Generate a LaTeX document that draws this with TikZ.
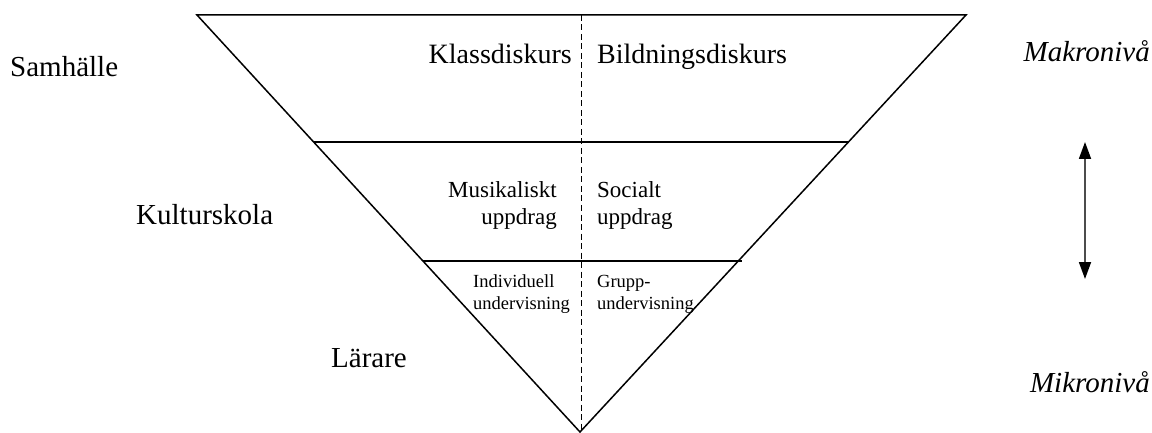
\documentclass[tikz,border=0pt]{standalone}
\usepackage{fontspec}
\setmainfont{Liberation Serif}
\usetikzlibrary{arrows.meta}
\begin{document}
\begin{tikzpicture}[x=1pt,y=-1pt,
  edge/.style={line width=1.5pt,line join=miter},
  thin/.style={line width=1.1pt},
  big/.style={inner sep=0pt,font=\fontsize{29}{34}\selectfont},
  top/.style={inner sep=0pt,font=\fontsize{28}{34}\selectfont},
  mid/.style={inner sep=0pt,font=\fontsize{23}{28}\selectfont},
  small/.style={inner sep=0pt,font=\fontsize{18.5}{22}\selectfont},
  lvl/.style={inner sep=0pt,font=\fontsize{29}{34}\selectfont\itshape}]
\useasboundingbox (0,0) rectangle (1152,433);
\coordinate (TL) at (197,15);
\coordinate (TR) at (966,15);
\coordinate (B) at (580,432);
\coordinate (L1) at (313.6,142);
\coordinate (R1) at (848,142);
\coordinate (L2) at (423,261);
\coordinate (R2) at (742,261);
\coordinate (DT) at (581,15);
\coordinate (DB) at (581,432);
\draw[edge] (TL) -- (TR) -- (B) -- cycle;
\draw[thin] (L1) -- (R1);
\draw[thin] (L2) -- (R2);
\draw[line width=1pt,dash pattern=on 6pt off 3.5pt] (DT) -- (DB);
% left labels
\node[big,anchor=base west] (samh) at (10,77) {Samhälle};
\node[big,anchor=base west] (kult) at (136,224) {Kulturskola};
\node[big,anchor=base west] (lar) at (331,367) {Lärare};
% top row
\node[top,anchor=base east] (klass) at (572,64) {Klassdiskurs};
\node[top,anchor=base west] (bild) at (597,64) {Bildningsdiskurs};
% middle row
\node[mid,anchor=base east,align=right] (mus) at (557,225) {Musikaliskt\\uppdrag};
\node[mid,anchor=base west,align=left] (soc) at (597,225) {Socialt\\uppdrag};
% bottom row
\node[small,anchor=base west,align=left] (ind) at (473,309) {Individuell\\undervisning};
\node[small,anchor=base west,align=left] (grp) at (597,309) {Grupp-\\undervisning};
% levels
\node[lvl,anchor=base east] (makro) at (1150,62) {Makronivå};
\node[lvl,anchor=base east] (mikro) at (1150,392) {Mikronivå};
\coordinate (AT) at (1085,142);
\coordinate (AB) at (1085,279);
\draw[line width=1.8pt,draw=black!70,{Triangle[length=17pt,width=12pt,color=black]}-{Triangle[length=17pt,width=12pt,color=black]}] (AT) -- (AB);
\end{tikzpicture}
\end{document}
